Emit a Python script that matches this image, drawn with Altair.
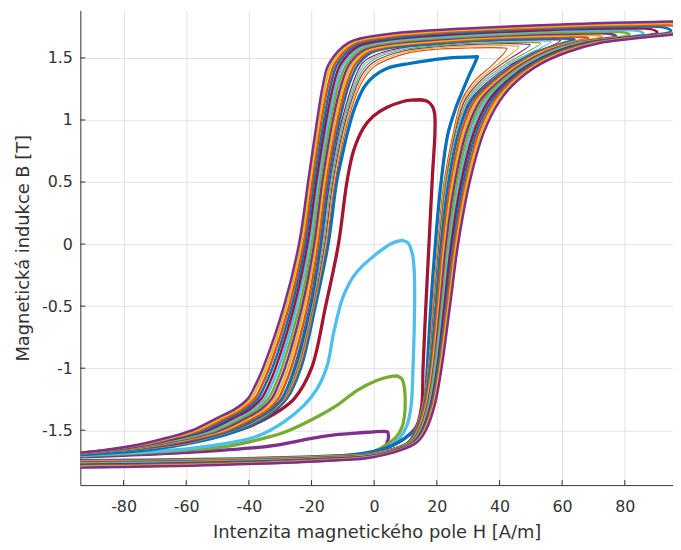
import altair as alt
import pandas as pd

XTICKS = [-80, -60, -40, -20, 0, 20, 40, 60, 80]
YTICKS = [-1.5, -1, -0.5, 0, 0.5, 1, 1.5]

# MATLAB default colour order
C_BLUE, C_ORANGE, C_YELLOW, C_PURPLE = "#0072BD", "#D95319", "#EDB120", "#7E2F8E"
C_GREEN, C_LBLUE, C_RED = "#77AC30", "#4DBEEE", "#A2142F"

# ---- thick inner loops: (H, B) ----
PURPLE1_UP = [(-105, -1.800), (-60, -1.778), (-30, -1.757), (-10, -1.732), (0, -1.695), (3, -1.645), (4.4, -1.58), (4.3, -1.515)]
PURPLE1_DN = [(4, -1.51), (-5.5, -1.523), (-15, -1.545), (-24, -1.585), (-30, -1.615), (-40, -1.645), (-55, -1.672), (-75, -1.697), (-105, -1.725)]

GREEN1_UP = [(-105, -1.795), (-60, -1.775), (-30, -1.75), (-10, -1.72), (0, -1.67), (4, -1.615), (7, -1.555), (8.8, -1.48), (9.7, -1.38), (9.9, -1.25), (9.6, -1.15), (8.8, -1.085), (7.2, -1.062)]
GREEN1_DN = [(7.2, -1.062), (5, -1.068), (0.8, -1.10), (-5.5, -1.18), (-11.9, -1.30), (-20.3, -1.42), (-28, -1.51), (-36, -1.57), (-46, -1.625), (-60, -1.66), (-80, -1.69), (-105, -1.72)]

LBLUE1_UP = [(-105, -1.79), (-60, -1.77), (-30, -1.745), (-10, -1.715), (0, -1.68), (5, -1.625), (8.2, -1.56), (10.5, -1.46), (11.8, -1.30), (12.4, -1.0), (12.9, -0.5), (12.8, -0.22), (12.2, -0.08), (10.8, 0.01), (8.7, 0.03)]
LBLUE1_DN = [(8.7, 0.03), (5.5, 0.005), (2.5, -0.045), (-0.3, -0.10), (-3.5, -0.17), (-6.6, -0.26), (-8.8, -0.36), (-10.3, -0.45), (-12.9, -0.71), (-15, -0.98), (-18.2, -1.165), (-22.4, -1.30), (-28.7, -1.43), (-37, -1.545), (-46, -1.60), (-60, -1.65), (-80, -1.685), (-105, -1.715)]

RED1_UP = [(-105, -1.785), (-60, -1.765), (-30, -1.74), (-10, -1.71), (0, -1.675), (6, -1.62), (10, -1.56), (13.5, -1.47), (15.2, -1.30), (15.6, -1.0), (16.5, -0.5), (17.5, 0.0), (18.6, 0.55), (19.4, 0.9), (19.3, 1.05), (18.6, 1.11), (17, 1.15), (14.5, 1.163)]
RED1_DN = [(14.5, 1.163), (12, 1.16), (9.2, 1.149), (4, 1.10), (-0.3, 1.03), (-3.4, 0.936), (-6.6, 0.75), (-8.7, 0.50), (-11.4, 0.0), (-15.5, -0.5), (-20, -1.0), (-25.5, -1.245), (-32, -1.37), (-42, -1.49), (-55, -1.57), (-70, -1.63), (-105, -1.71)]

BLUE1_UP = [(-105, -1.785), (-60, -1.765), (-30, -1.735), (-10, -1.705), (0, -1.67), (6, -1.62), (10, -1.56), (14, -1.47), (16, -1.30), (17, -0.98), (18.2, -0.45), (19.8, 0.085), (21.3, 0.484), (23.5, 0.883), (26.1, 1.10), (28.5, 1.25), (30.3, 1.36), (32, 1.45), (33, 1.51)]
BLUE1_DN = [(33, 1.51), (22, 1.495), (11.3, 1.455), (4, 1.415), (0, 1.355), (-2.5, 1.29), (-4, 1.23), (-6.6, 1.07), (-8.7, 0.88), (-10.5, 0.68), (-12, 0.5), (-14.7, 0.0), (-18.8, -0.5), (-23.5, -1.0), (-28, -1.245), (-35, -1.40), (-45, -1.515), (-60, -1.61), (-75, -1.665), (-105, -1.71)]

# ---- thin loops ----
ORANGE2_UP = [(-105, -1.78), (-50, -1.76), (-15, -1.72), (0, -1.68), (10.4, -1.6), (13.0, -1.5), (15.4, -1.3), (17.2, -1.0), (18.7, -0.5), (20.3, 0), (22.3, 0.5), (25.3, 0.9), (27.8, 1.15), (31.5, 1.3), (38.0, 1.45), (42.4, 1.575)]
ORANGE2_DN = [(41.5, 1.58), (30, 1.58), (20, 1.57), (10, 1.535), (0, 1.43), (-4, 1.30), (-8.3, 1.0), (-12.5, 0.5), (-15.2, 0), (-19.1, -0.5), (-23.8, -1.0), (-28.3, -1.245), (-35.5, -1.4), (-44.2, -1.5), (-56, -1.585), (-70, -1.643), (-105, -1.71)]
YELLOW2_UP = [(-105, -1.775), (-50, -1.756), (-15, -1.718), (0, -1.681), (10.5, -1.6), (13.1, -1.5), (15.5, -1.3), (17.3, -1.0), (18.9, -0.5), (20.5, 0), (22.6, 0.5), (25.6, 0.9), (28.3, 1.15), (32.4, 1.3), (39.5, 1.45), (46.2, 1.59)]
YELLOW2_DN = [(45.3, 1.595), (30, 1.595), (20, 1.58), (10, 1.548), (0, 1.45), (-4, 1.33), (-8.7, 1.0), (-12.9, 0.5), (-15.5, 0), (-19.3, -0.5), (-24.1, -1.0), (-28.6, -1.245), (-35.9, -1.4), (-44.5, -1.5), (-56.5, -1.587), (-70, -1.642), (-105, -1.709)]
PURPLE2_UP = [(-105, -1.77), (-50, -1.752), (-15, -1.715), (0, -1.682), (10.5, -1.6), (13.2, -1.5), (15.6, -1.3), (17.4, -1.0), (19.1, -0.5), (20.7, 0), (22.9, 0.5), (25.9, 0.9), (28.8, 1.15), (33.3, 1.3), (40.7, 1.45), (49.8, 1.605)]
PURPLE2_DN = [(48.9, 1.61), (30, 1.607), (20, 1.59), (10, 1.56), (0, 1.47), (-4, 1.36), (-9.1, 1.0), (-13.2, 0.5), (-15.8, 0), (-19.5, -0.5), (-24.4, -1.0), (-28.9, -1.245), (-36.4, -1.4), (-44.8, -1.5), (-57, -1.589), (-70, -1.64), (-105, -1.708)]
GREEN2_UP = [(-105, -1.765), (-50, -1.748), (-15, -1.712), (0, -1.683), (10.6, -1.6), (13.3, -1.5), (15.7, -1.3), (17.5, -1.0), (19.3, -0.5), (20.9, 0), (23.1, 0.5), (26.2, 0.9), (29.4, 1.15), (34.2, 1.3), (41.9, 1.45), (53.2, 1.618)]
GREEN2_DN = [(52.2, 1.623), (30, 1.617), (20, 1.597), (10, 1.57), (0, 1.49), (-4, 1.39), (-9.5, 1.0), (-13.6, 0.5), (-16.2, 0), (-19.7, -0.5), (-24.6, -1.0), (-29.1, -1.245), (-36.8, -1.4), (-45.1, -1.5), (-57.5, -1.59), (-70, -1.639), (-105, -1.707)]
LBLUE2_UP = [(-105, -1.76), (-50, -1.744), (-15, -1.71), (0, -1.684), (10.7, -1.6), (13.4, -1.5), (15.8, -1.3), (17.7, -1.0), (19.5, -0.5), (21.1, 0), (23.4, 0.5), (26.5, 0.9), (29.9, 1.15), (35.1, 1.3), (43.0, 1.45), (56.5, 1.63)]
LBLUE2_DN = [(55.5, 1.635), (30, 1.625), (20, 1.604), (10, 1.58), (0, 1.505), (-4, 1.42), (-9.9, 1.0), (-13.9, 0.5), (-16.5, 0), (-19.9, -0.5), (-24.9, -1.0), (-29.4, -1.245), (-37.2, -1.4), (-45.4, -1.5), (-58, -1.592), (-70, -1.637), (-105, -1.706)]
RED2_UP = [(-105, -1.755), (-50, -1.74), (-15, -1.707), (0, -1.685), (10.7, -1.6), (13.4, -1.5), (15.9, -1.3), (17.8, -1.0), (19.6, -0.5), (21.2, 0), (23.6, 0.5), (26.8, 0.9), (30.4, 1.15), (36.0, 1.3), (44.0, 1.45), (59.5, 1.64)]
RED2_DN = [(58.5, 1.645), (30, 1.632), (20, 1.61), (10, 1.588), (0, 1.52), (-4, 1.45), (-10.3, 1.0), (-14.2, 0.5), (-16.8, 0), (-20.1, -0.5), (-25.1, -1.0), (-29.6, -1.245), (-37.6, -1.4), (-45.7, -1.5), (-58.5, -1.594), (-70, -1.636), (-105, -1.705)]

# ---- outer band of large loops (inner -> outer) ----
BAND0_UP = [(-105, -1.745), (-50, -1.730), (-15, -1.705), (0, -1.685), (10.8, -1.6), (13.5, -1.5), (16.0, -1.3), (17.9, -1.0), (19.8, -0.5), (21.4, 0), (23.8, 0.5), (27.0, 0.9), (31.0, 1.15), (37.0, 1.3), (45.0, 1.45), (52, 1.55), (60.5, 1.62), (64.0, 1.648)]
BAND0_DN = [(62.5, 1.655), (50.0, 1.652), (35.0, 1.642), (20, 1.615), (4, 1.575), (-1.0, 1.540), (-5.0, 1.45), (-7.8, 1.3), (-11.0, 1.0), (-14.7, 0.5), (-17.2, 0), (-20.5, -0.5), (-25.5, -1.0), (-27.3, -1.13), (-29.5, -1.245), (-32.5, -1.33), (-37.0, -1.4), (-45.5, -1.5), (-66, -1.615), (-75, -1.645), (-90, -1.680), (-105, -1.70)]
BAND1_UP = [(-105, -1.751), (-50, -1.735), (-15, -1.709), (0, -1.688), (11.1, -1.6), (13.8, -1.5), (16.3, -1.3), (18.3, -1.0), (20.2, -0.5), (21.9, 0), (24.5, 0.5), (27.8, 0.9), (31.9, 1.15), (37.8, 1.3), (45.8, 1.45), (53, 1.55), (61.7, 1.62), (68.4, 1.658)]
BAND1_DN = [(66.9, 1.668), (53.5, 1.666), (37.5, 1.655), (20, 1.626), (4, 1.587), (-1.7, 1.549), (-6.0, 1.45), (-8.6, 1.3), (-11.7, 1.0), (-15.3, 0.5), (-17.9, 0), (-21.3, -0.5), (-26.5, -1.0), (-28.4, -1.13), (-30.6, -1.245), (-33.7, -1.33), (-38.3, -1.4), (-46.8, -1.5), (-66, -1.610), (-75, -1.642), (-90, -1.679), (-105, -1.70)]
BAND2_UP = [(-105, -1.757), (-50, -1.740), (-15, -1.713), (0, -1.691), (11.3, -1.6), (14.1, -1.5), (16.7, -1.3), (18.6, -1.0), (20.7, -0.5), (22.5, 0), (25.1, 0.5), (28.6, 0.9), (32.8, 1.15), (38.6, 1.3), (46.6, 1.45), (54, 1.55), (62.8, 1.62), (72.8, 1.667)]
BAND2_DN = [(71.2, 1.680), (57.0, 1.679), (40.0, 1.668), (20, 1.637), (4, 1.598), (-2.4, 1.557), (-6.9, 1.45), (-9.5, 1.3), (-12.4, 1.0), (-16.0, 0.5), (-18.6, 0), (-22.2, -0.5), (-27.5, -1.0), (-29.4, -1.13), (-31.7, -1.245), (-34.9, -1.33), (-39.6, -1.4), (-48.0, -1.5), (-66, -1.604), (-75, -1.639), (-90, -1.678), (-105, -1.70)]
BAND3_UP = [(-105, -1.763), (-50, -1.745), (-15, -1.717), (0, -1.694), (11.6, -1.6), (14.4, -1.5), (17.0, -1.3), (19.0, -1.0), (21.1, -0.5), (23.0, 0), (25.8, 0.5), (29.4, 0.9), (33.7, 1.15), (39.4, 1.3), (47.4, 1.45), (55, 1.55), (64.0, 1.62), (77.2, 1.677)]
BAND3_DN = [(75.6, 1.693), (60.5, 1.693), (42.5, 1.680), (20, 1.648), (4, 1.610), (-3.1, 1.566), (-7.9, 1.45), (-10.3, 1.3), (-13.2, 1.0), (-16.6, 0.5), (-19.2, 0), (-23.0, -0.5), (-28.5, -1.0), (-30.5, -1.13), (-32.7, -1.245), (-36.1, -1.33), (-40.9, -1.4), (-49.3, -1.5), (-66, -1.599), (-75, -1.636), (-90, -1.678), (-105, -1.70)]
BAND4_UP = [(-105, -1.769), (-50, -1.750), (-15, -1.721), (0, -1.697), (11.9, -1.6), (14.7, -1.5), (17.3, -1.3), (19.3, -1.0), (21.6, -0.5), (23.6, 0), (26.5, 0.5), (30.2, 0.9), (34.6, 1.15), (40.2, 1.3), (48.2, 1.45), (56, 1.55), (65.1, 1.62), (81.6, 1.687)]
BAND4_DN = [(79.9, 1.705), (64.0, 1.706), (45.0, 1.693), (20, 1.659), (4, 1.621), (-3.8, 1.574), (-8.8, 1.45), (-11.2, 1.3), (-13.9, 1.0), (-17.3, 0.5), (-19.9, 0), (-23.8, -0.5), (-29.5, -1.0), (-31.5, -1.13), (-33.8, -1.245), (-37.3, -1.33), (-42.2, -1.4), (-50.5, -1.5), (-66, -1.593), (-75, -1.633), (-90, -1.677), (-105, -1.70)]
BAND5_UP = [(-105, -1.775), (-50, -1.755), (-15, -1.725), (0, -1.700), (12.2, -1.6), (15.0, -1.5), (17.7, -1.3), (19.7, -1.0), (22.0, -0.5), (24.1, 0), (27.2, 0.5), (31.0, 0.9), (35.5, 1.15), (41.0, 1.3), (49.0, 1.45), (57, 1.55), (66.3, 1.62), (86.0, 1.697)]
BAND5_DN = [(84.3, 1.718), (67.5, 1.720), (47.5, 1.706), (20, 1.670), (4, 1.633), (-4.5, 1.583), (-9.8, 1.45), (-12.0, 1.3), (-14.6, 1.0), (-17.9, 0.5), (-20.6, 0), (-24.7, -0.5), (-30.5, -1.0), (-32.6, -1.13), (-34.9, -1.245), (-38.5, -1.33), (-43.5, -1.4), (-51.8, -1.5), (-66, -1.588), (-75, -1.630), (-90, -1.676), (-105, -1.70)]
BAND6_UP = [(-105, -1.781), (-50, -1.760), (-15, -1.729), (0, -1.703), (12.4, -1.6), (15.3, -1.5), (18.0, -1.3), (20.1, -1.0), (22.4, -0.5), (24.6, 0), (27.8, 0.5), (31.8, 0.9), (36.4, 1.15), (41.8, 1.3), (49.8, 1.45), (58, 1.55), (67.4, 1.62), (90.4, 1.706)]
BAND6_DN = [(88.6, 1.730), (71.0, 1.734), (50.0, 1.719), (20, 1.681), (4, 1.644), (-5.2, 1.591), (-10.7, 1.45), (-12.8, 1.3), (-15.3, 1.0), (-18.5, 0.5), (-21.3, 0), (-25.5, -0.5), (-31.5, -1.0), (-33.6, -1.13), (-36.0, -1.245), (-39.7, -1.33), (-44.8, -1.4), (-53.0, -1.5), (-66, -1.582), (-75, -1.627), (-90, -1.675), (-105, -1.70)]
BAND7_UP = [(-105, -1.787), (-50, -1.765), (-15, -1.733), (0, -1.706), (12.7, -1.6), (15.6, -1.5), (18.3, -1.3), (20.4, -1.0), (22.9, -0.5), (25.2, 0), (28.5, 0.5), (32.6, 0.9), (37.3, 1.15), (42.6, 1.3), (50.6, 1.45), (59, 1.55), (68.6, 1.62), (94.8, 1.716)]
BAND7_DN = [(93.0, 1.743), (74.5, 1.747), (52.5, 1.732), (20, 1.692), (4, 1.656), (-5.9, 1.600), (-11.7, 1.45), (-13.7, 1.3), (-16.0, 1.0), (-19.2, 0.5), (-22.0, 0), (-26.3, -0.5), (-32.5, -1.0), (-34.7, -1.13), (-37.1, -1.245), (-40.9, -1.33), (-46.1, -1.4), (-54.3, -1.5), (-66, -1.577), (-75, -1.624), (-90, -1.674), (-105, -1.70)]
BAND8_UP = [(-105, -1.793), (-50, -1.770), (-15, -1.737), (0, -1.709), (13.0, -1.6), (15.9, -1.5), (18.6, -1.3), (20.8, -1.0), (23.3, -0.5), (25.7, 0), (29.2, 0.5), (33.4, 0.9), (38.2, 1.15), (43.4, 1.3), (51.4, 1.45), (60, 1.55), (69.7, 1.62), (99.2, 1.726)]
BAND8_DN = [(97.3, 1.755), (78.0, 1.761), (55.0, 1.744), (20, 1.703), (4, 1.667), (-6.6, 1.608), (-12.6, 1.45), (-14.5, 1.3), (-16.8, 1.0), (-19.8, 0.5), (-22.6, 0), (-27.1, -0.5), (-33.5, -1.0), (-35.7, -1.13), (-38.1, -1.245), (-42.1, -1.33), (-47.4, -1.4), (-55.5, -1.5), (-66, -1.571), (-75, -1.621), (-90, -1.674), (-105, -1.70)]
BAND9_UP = [(-105, -1.799), (-50, -1.775), (-15, -1.741), (0, -1.712), (13.2, -1.6), (16.2, -1.5), (19.0, -1.3), (21.1, -1.0), (23.8, -0.5), (26.3, 0), (29.8, 0.5), (34.2, 0.9), (39.1, 1.15), (44.2, 1.3), (52.2, 1.45), (61, 1.55), (70.9, 1.62), (103.6, 1.735)]
BAND9_DN = [(101.7, 1.768), (81.5, 1.774), (57.5, 1.757), (20, 1.714), (4, 1.679), (-7.3, 1.617), (-13.6, 1.45), (-15.4, 1.3), (-17.5, 1.0), (-20.5, 0.5), (-23.3, 0), (-28.0, -0.5), (-34.5, -1.0), (-36.8, -1.13), (-39.2, -1.245), (-43.3, -1.33), (-48.7, -1.4), (-56.8, -1.5), (-66, -1.566), (-75, -1.618), (-90, -1.673), (-105, -1.70)]
BAND10_UP = [(-105, -1.805), (-50, -1.780), (-15, -1.745), (0, -1.715), (13.5, -1.6), (16.5, -1.5), (19.3, -1.3), (21.5, -1.0), (24.2, -0.5), (26.8, 0), (30.5, 0.5), (35.0, 0.9), (40.0, 1.15), (45.0, 1.3), (53.0, 1.45), (62, 1.55), (72.0, 1.62), (108.0, 1.745)]
BAND10_DN = [(106.0, 1.780), (85.0, 1.788), (60.0, 1.770), (20, 1.725), (4, 1.690), (-8.0, 1.625), (-14.5, 1.45), (-16.2, 1.3), (-18.2, 1.0), (-21.1, 0.5), (-24.0, 0), (-28.8, -0.5), (-35.5, -1.0), (-37.8, -1.13), (-40.3, -1.245), (-44.5, -1.33), (-50.0, -1.4), (-58.0, -1.5), (-66, -1.560), (-75, -1.615), (-90, -1.672), (-105, -1.70)]

LOOPS = [
    ("L01", "thick", C_PURPLE, PURPLE1_UP, PURPLE1_DN),
    ("L02", "thick", C_GREEN, GREEN1_UP, GREEN1_DN),
    ("L03", "thick", C_LBLUE, LBLUE1_UP, LBLUE1_DN),
    ("L04", "thick", C_RED, RED1_UP, RED1_DN),
    ("L05", "thick", C_BLUE, BLUE1_UP, BLUE1_DN),
    ("L06", "thin", C_ORANGE, ORANGE2_UP, ORANGE2_DN),
    ("L07", "thin", C_YELLOW, YELLOW2_UP, YELLOW2_DN),
    ("L08", "thin", C_PURPLE, PURPLE2_UP, PURPLE2_DN),
    ("L09", "thin", C_GREEN, GREEN2_UP, GREEN2_DN),
    ("L10", "thin", C_LBLUE, LBLUE2_UP, LBLUE2_DN),
    ("L11", "thin", C_RED, RED2_UP, RED2_DN),
    ("L12", "band", C_BLUE, BAND0_UP, BAND0_DN),
    ("L13", "band", C_ORANGE, BAND1_UP, BAND1_DN),
    ("L14", "band", C_YELLOW, BAND2_UP, BAND2_DN),
    ("L15", "band", C_PURPLE, BAND3_UP, BAND3_DN),
    ("L16", "band", C_GREEN, BAND4_UP, BAND4_DN),
    ("L17", "band", C_LBLUE, BAND5_UP, BAND5_DN),
    ("L18", "band", C_RED, BAND6_UP, BAND6_DN),
    ("L19", "band", C_BLUE, BAND7_UP, BAND7_DN),
    ("L20", "band", C_ORANGE, BAND8_UP, BAND8_DN),
    ("L21", "band", C_YELLOW, BAND9_UP, BAND9_DN),
    ("L22", "band", C_PURPLE, BAND10_UP, BAND10_DN),
]

rows = []
for name, grp, col, up, dn in LOOPS:
    for i, (h, b) in enumerate(up + dn):
        rows.append({"loop": name, "grp": grp, "i": i, "H": h, "B": b})
df = pd.DataFrame(rows)

W, HT = 598, 479
FONT = "DejaVu Sans"
TXT = "#333333"
AX = "#333333"

xscale = alt.Scale(domain=[-93.8, 95.4], nice=False, zero=False)
yscale = alt.Scale(domain=[-1.942, 1.883], nice=False, zero=False)

xaxis = alt.Axis(values=XTICKS, labelExpr="'' + datum.value", title="Intenzita magnetického pole H [A/m]",
                 grid=True, gridColor="#e2e2e2", ticks=False, tickSize=0, domainColor=AX,
                 labelFont=FONT, labelFontSize=16, labelColor=TXT, labelPadding=14,
                 titleFont=FONT, titleFontSize=18, titleFontWeight="normal", titleColor=TXT, titlePadding=8.5)
yaxis = alt.Axis(values=YTICKS, labelExpr="'' + datum.value", title="Magnetická indukce B [T]",
                 grid=True, gridColor="#e2e2e2", ticks=False, tickSize=0, domainColor=AX,
                 labelFont=FONT, labelFontSize=16, labelColor=TXT, labelPadding=8,
                 titleFont=FONT, titleFontSize=18, titleFontWeight="normal", titleColor=TXT, titlePadding=9)

color = alt.Color("loop:N", scale=alt.Scale(domain=[l[0] for l in LOOPS], range=[l[2] for l in LOOPS]), legend=None)


def loop_layer(grp, width):
    return alt.Chart(df).transform_filter(alt.datum.grp == grp).mark_line(
        strokeWidth=width, clip=True, interpolate="catmull-rom", strokeJoin="round"
    ).encode(
        x=alt.X("H:Q", scale=xscale, axis=xaxis),
        y=alt.Y("B:Q", scale=yscale, axis=yaxis),
        color=color,
        order="i:Q",
    )


thick = loop_layer("thick", 3.3)
thin = loop_layer("thin", 1.2)
band = loop_layer("band", 2.5)

xt = alt.Chart(pd.DataFrame({"H": XTICKS})).mark_rule(color=AX, strokeWidth=1).encode(
    x=alt.X("H:Q", scale=xscale, axis=xaxis), y=alt.value(HT), y2=alt.value(HT - 5))
yt = alt.Chart(pd.DataFrame({"B": YTICKS})).mark_rule(color=AX, strokeWidth=1).encode(
    y=alt.Y("B:Q", scale=yscale, axis=yaxis), x=alt.value(0), x2=alt.value(5))

chart = alt.layer(thick, thin, band, xt, yt).properties(
    width=W, height=HT,
    autosize=alt.AutoSizeParams(type="none"),
    padding={"left": 73, "top": 0, "right": 0, "bottom": 55},
    background="white",
).configure_view(stroke=None)

chart.save("out.html", embed_options={"renderer": "svg", "actions": False})
